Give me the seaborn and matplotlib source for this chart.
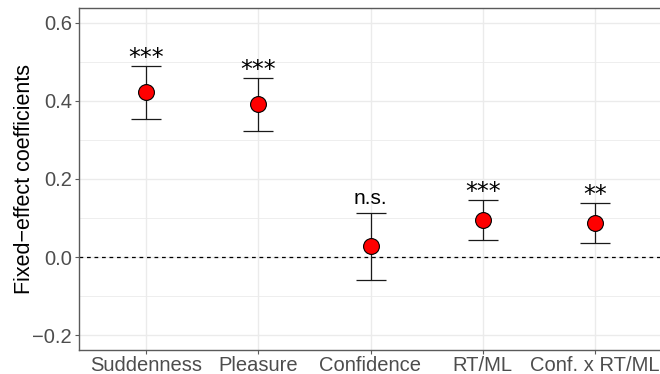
import matplotlib
matplotlib.use("Agg")
import matplotlib.pyplot as plt
import seaborn as sns
import pandas as pd
from matplotlib.ticker import MultipleLocator

categories = ["Suddenness", "Pleasure", "Confidence", "RT/ML", "Conf. x RT/ML"]
estimates = [0.423, 0.392, 0.028, 0.095, 0.087]
lower = [0.354, 0.323, -0.059, 0.044, 0.036]
upper = [0.490, 0.459, 0.113, 0.146, 0.138]
labels = ["***", "***", "n.s.", "***", "**"]
yticks = [-0.2, 0.0, 0.2, 0.4, 0.6]

df = pd.DataFrame({"term": categories, "est": estimates, "lo": lower, "hi": upper, "lab": labels})

sns.set_theme(style="white")
plt.rcParams["font.family"] = ["Liberation Sans", "DejaVu Sans"]

fig = plt.figure(figsize=(6.6, 3.74), dpi=100)
ax = fig.add_axes([79/660, 24/374, 583/660, 342/374])

ax.errorbar(x=range(len(df)), y=df["est"],
            yerr=[df["est"] - df["lo"], df["hi"] - df["est"]],
            fmt="none", ecolor="#1A1A1A", elinewidth=0.9, capsize=11, capthick=0.9, zorder=3)
sns.scatterplot(data=df, x="term", y="est", ax=ax, color="#FF0000", edgecolor="black",
                linewidth=0.8, s=130, zorder=4, legend=False)

ax.axhline(0, color="black", linestyle=(0, (3, 3)), linewidth=0.9, zorder=2)

for i, row in df.iterrows():
    if "*" in row["lab"]:
        ax.text(i, row["hi"] + 0.002, row["lab"], ha="center", va="baseline", fontsize=17,
                color="black", family=["DejaVu Sans"])
    else:
        ax.text(i, row["hi"] + 0.012, row["lab"], ha="center", va="bottom", fontsize=15,
                color="black")

ax.set_xlim(-0.6, len(categories) - 0.4)
ax.set_ylim(-0.238, 0.638)
ax.set_yticks(yticks)
ax.set_yticklabels([f"{v:.1f}".replace("-", "\u2212") for v in yticks])
ax.yaxis.set_minor_locator(MultipleLocator(0.1))

ax.grid(True, which="major", color="#EBEBEB", linewidth=1.0)
ax.grid(True, which="minor", axis="y", color="#EBEBEB", linewidth=0.6)
ax.set_axisbelow(True)

for s in ["left", "bottom", "top", "right"]:
    ax.spines[s].set_color("#5A5A5A")
    ax.spines[s].set_linewidth(1.0)

ax.tick_params(axis="both", which="major", length=3, width=0.8, color="#5A5A5A",
               labelsize=14.5, labelcolor="#4D4D4D", pad=2, bottom=True, left=True)
ax.tick_params(axis="x", which="major", pad=1.2)
ax.tick_params(axis="y", which="minor", length=0)
ax.set_xlabel("")
ax.set_ylabel("Fixed\u2212effect coefficients", fontsize=15.5, color="black", labelpad=-1.5)

fig.savefig("out.png", dpi=100)
